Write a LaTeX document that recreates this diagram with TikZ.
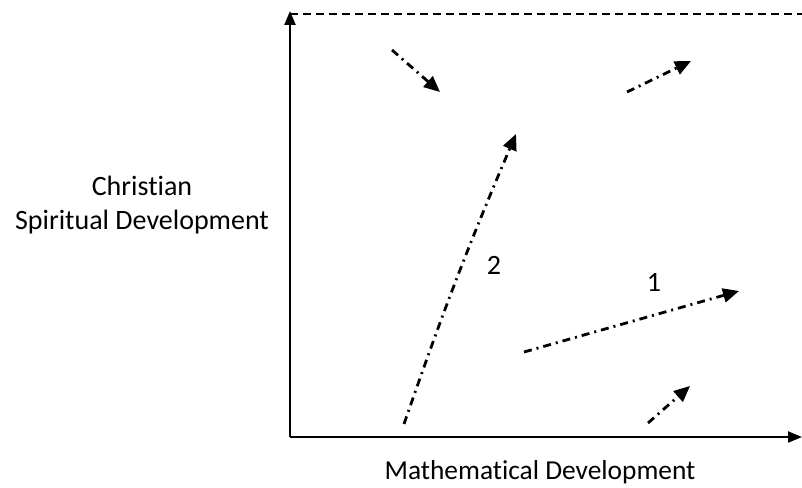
\documentclass[tikz,border=0pt]{standalone}
\usepackage{fontspec}
\setmainfont[Ligatures=NoCommon]{Carlito}
\usetikzlibrary{arrows.meta}

\begin{document}
\begin{tikzpicture}[x=1pt,y=-1pt,line width=2.2pt,>={Triangle[length=16pt,width=14pt]},
  axis/.style={->,>={Triangle[length=14pt,width=11pt]}},
  trend/.style={->,line width=2.8pt,dash pattern=on 8pt off 5pt on 2pt off 5pt},
  lbl/.style={font=\fontsize{28}{34}\selectfont,align=center}]
  \useasboundingbox (0,0) rectangle (802,487);
  % axes
  \coordinate (o) at (290,437);
  \coordinate (ytop) at (290,11);
  \coordinate (xend) at (802,437);
  \coordinate (topend) at (802,14);
  \draw[axis] (o) -- (ytop);
  \draw[axis] (o) -- (xend);
  \draw[line width=2.6pt,dash pattern=on 8pt off 5pt] (290,14) -- (topend);
  \node[lbl] (ylab) at (142,205) {Christian\\Spiritual Development};
  \node[lbl,anchor=base,font=\fontsize{27.4}{34}\selectfont] (xlab) at (540,479) {Mathematical Development};
  % paths
  \coordinate (a1) at (392,50);   \coordinate (b1) at (440,92);
  \coordinate (a2) at (627,92);   \coordinate (b2) at (691,61);
  \coordinate (a3) at (404,424);  \coordinate (b3) at (516,134);
  \coordinate (a4) at (524,352);  \coordinate (b4) at (739,291);
  \coordinate (a5) at (648,423);  \coordinate (b5) at (690,386);
  \draw[trend] (a1) -- (b1);
  \draw[trend] (a2) -- (b2);
  \draw[trend] (a3) to[bend left=2] (b3);
  \draw[trend] (a4) -- (b4);
  \draw[trend] (a5) -- (b5);
  \node[lbl] (two) at (494,265) {2};
  \node[lbl] (one) at (654,282) {1};
\end{tikzpicture}
\end{document}
